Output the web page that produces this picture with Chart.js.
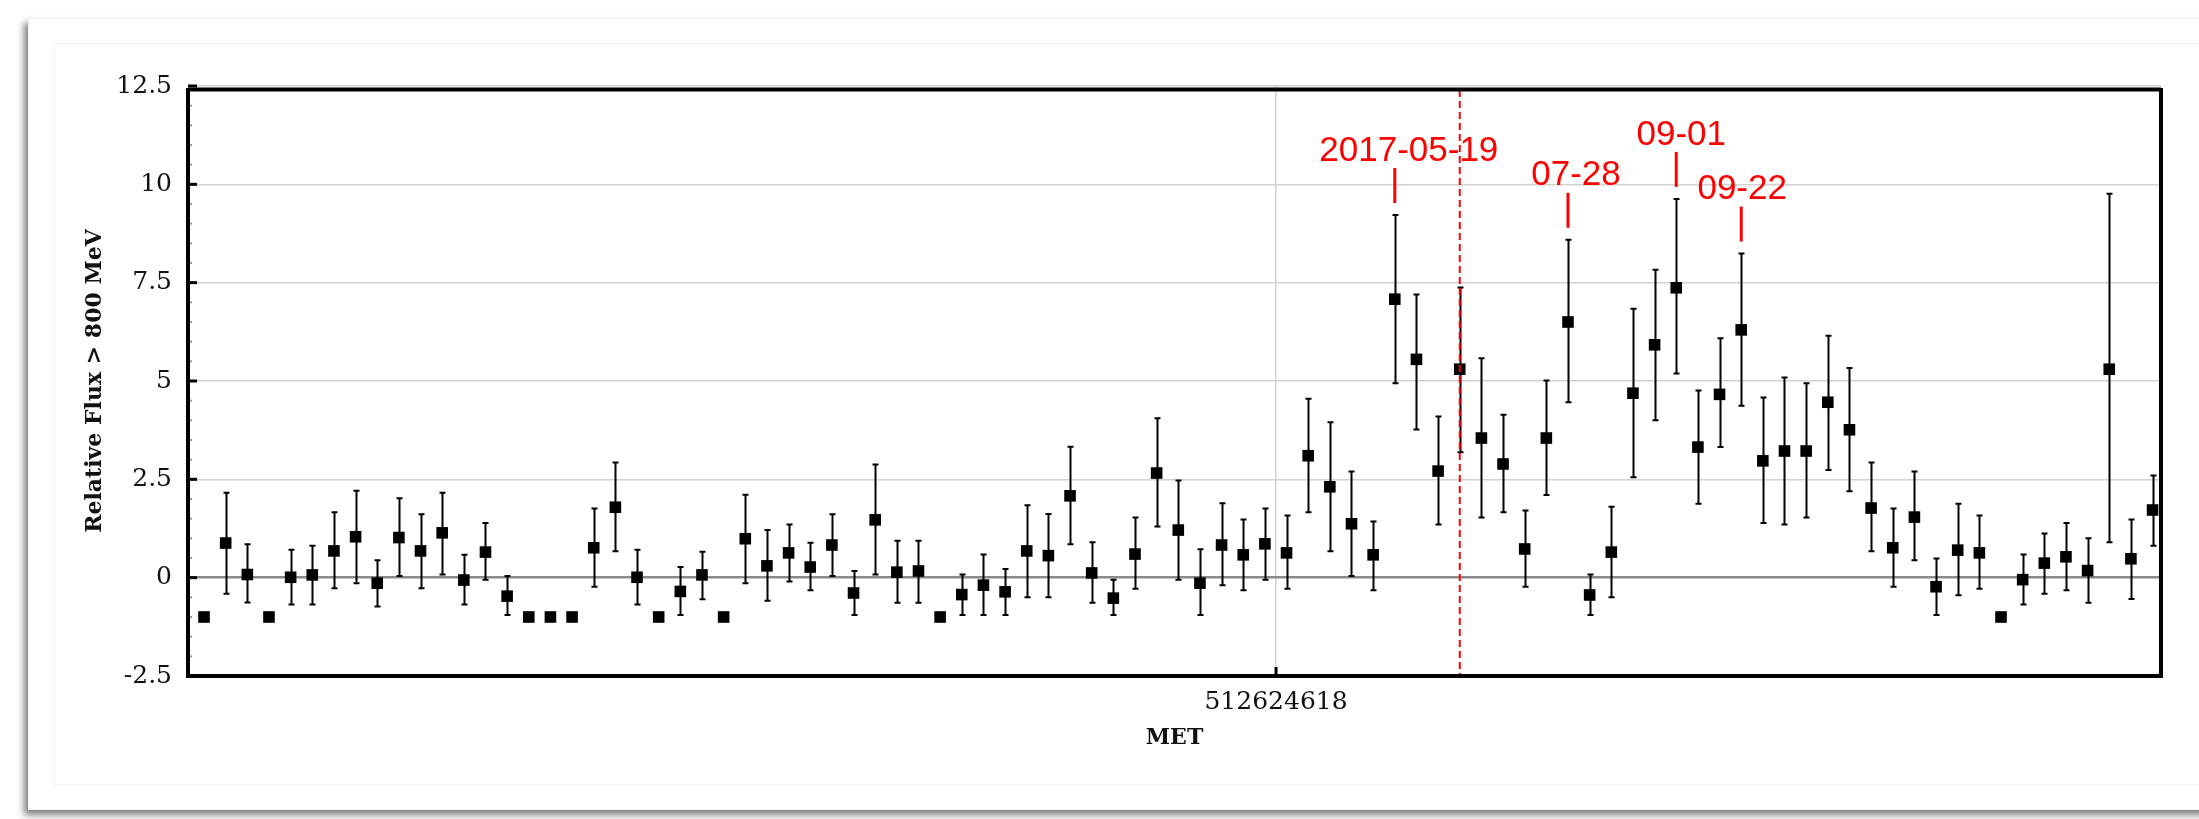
<!DOCTYPE html>
<html>
<head>
<meta charset="utf-8">
<title>Relative Flux &gt; 800 MeV</title>
<script src="https://cdn.jsdelivr.net/npm/chart.js@4"></script>
<style>
  html, body { margin: 0; padding: 0; background: #fff; overflow: hidden; }
  #card { position: absolute; left: 28px; top: 18px; width: 2200px; height: 792px; background: #fff;
          box-shadow: -4px 5px 7px rgba(0,0,0,0.5); border: 1px solid #f0f0f0; box-sizing: border-box; }
  #inner { position: absolute; left: 54px; top: 43px; width: 2170px; height: 742px;
           border: 1px solid #f2f2f2; box-sizing: border-box; }
  #lc { position: absolute; left: 0; top: 0; }
</style>
</head>
<body>
<div id="card"></div>
<div id="inner"></div>
<canvas id="lc" width="2199" height="819"></canvas>
<script>
// weekly bins, Fermi MET seconds
var binWidth = 604800;
var firstBinCenter = 482678018;
var metTick = 512624618;

// relative flux > 800 MeV per bin, -1 = upper limit only (no error bar)
var flux = [
  -1, 0.88, 0.08, -1, 0.01, 0.07, 0.68, 1.04, -0.14, 1.02,
  0.68, 1.14, -0.06, 0.65, -0.47, -1, -1, -1, 0.76, 1.79,
  0.01, -1, -0.35, 0.07, -1, 0.99, 0.30, 0.63, 0.27, 0.83,
  -0.39, 1.47, 0.14, 0.17, -1, -0.43, -0.19, -0.36, 0.68, 0.56,
  2.08, 0.12, -0.52, 0.60, 2.66, 1.21, -0.14, 0.83, 0.58, 0.86,
  0.63, 3.10, 2.31, 1.37, 0.58, 7.08, 5.55, 2.71, 5.30, 3.55,
  2.89, 0.73, 3.55, 6.50, -0.44, 0.65, 4.69, 5.92, 7.37, 3.32,
  4.66, 6.30, 2.97, 3.22, 3.22, 4.46, 3.76, 1.77, 0.76, 1.54,
  -0.23, 0.70, 0.63, -1, -0.05, 0.37, 0.53, 0.18, 5.30, 0.48,
  1.72
];
var fluxLow = [
  null, -0.41, -0.63, null, -0.68, -0.68, -0.27, -0.14, -0.73, 0.04,
  -0.27, 0.08, -0.68, -0.05, -0.95, null, null, null, -0.23, 0.67,
  -0.68, null, -0.95, -0.55, null, -0.14, -0.59, -0.10, -0.32, 0.04,
  -0.95, 0.08, -0.64, -0.64, null, -0.95, -0.95, -0.95, -0.50, -0.50,
  0.85, -0.64, -0.95, -0.28, 1.30, -0.05, -0.95, -0.19, -0.32, -0.05,
  -0.28, 1.66, 0.67, 0.04, -0.32, 4.94, 3.77, 1.35, 3.19, 1.53,
  1.66, -0.23, 2.10, 4.46, -0.95, -0.50, 2.55, 4.00, 5.19, 1.88,
  3.32, 4.37, 1.39, 1.35, 1.53, 2.74, 2.20, 0.67, -0.23, 0.44,
  -0.95, -0.45, -0.28, null, -0.68, -0.41, -0.32, -0.64, 0.90, -0.54,
  0.81
];
var fluxHigh = [
  null, 2.16, 0.85, null, 0.71, 0.81, 1.66, 2.21, 0.44, 2.02,
  1.61, 2.16, 0.58, 1.39, 0.04, null, null, null, 1.76, 2.93,
  0.71, null, 0.27, 0.66, null, 2.11, 1.21, 1.35, 0.89, 1.61,
  0.17, 2.88, 0.94, 0.94, null, 0.08, 0.59, 0.22, 1.84, 1.62,
  3.33, 0.90, -0.05, 1.53, 4.05, 2.47, 0.72, 1.89, 1.48, 1.76,
  1.58, 4.55, 3.95, 2.70, 1.43, 9.22, 7.20, 4.10, 7.38, 5.58,
  4.14, 1.71, 5.01, 8.59, 0.08, 1.80, 6.84, 7.83, 9.63, 4.76,
  6.09, 8.24, 4.58, 5.09, 4.94, 6.15, 5.33, 2.93, 1.76, 2.70,
  0.49, 1.88, 1.58, null, 0.59, 1.12, 1.39, 1.00, 9.76, 1.48,
  2.60
];

// dated flares and the dashed reference bin
var flareNotes = [
  { label: '2017-05-19', bin: 55, dx: 14 },
  { label: '07-28', bin: 63, dx: 8 },
  { label: '09-01', bin: 68, dx: 5 },
  { label: '09-22', bin: 71, dx: 1 }
];
var dashedBin = 58;

var met = flux.map(function(v, i) { return firstBinCenter + i * binWidth; });
var points = flux.map(function(v, i) { return { x: met[i], y: v }; });

var errorBars = {
  id: 'errorBars',
  beforeDatasetsDraw: function(chart) {
    var ctx = chart.ctx, xs = chart.scales.x, ys = chart.scales.y;
    ctx.save();
    ctx.strokeStyle = '#000';
    ctx.lineWidth = 2;
    for (var i = 0; i < flux.length; i++) {
      if (fluxLow[i] === null) continue;
      var px = Math.round(xs.getPixelForValue(met[i])) + 0.5;
      var lo = ys.getPixelForValue(fluxLow[i]);
      var hi = ys.getPixelForValue(fluxHigh[i]);
      ctx.beginPath();
      ctx.moveTo(px, lo); ctx.lineTo(px, hi);
      ctx.moveTo(px - 3, lo); ctx.lineTo(px + 3, lo);
      ctx.moveTo(px - 3, hi); ctx.lineTo(px + 3, hi);
      ctx.stroke();
    }
    ctx.restore();
  }
};

var frameAndNotes = {
  id: 'frameAndNotes',
  afterDatasetsDraw: function(chart) {
    var ctx = chart.ctx, a = chart.chartArea, xs = chart.scales.x, ys = chart.scales.y;
    ctx.save();

    // red dashed line
    var dx = xs.getPixelForValue(met[dashedBin]);
    ctx.strokeStyle = '#ff0000';
    ctx.lineWidth = 2;
    ctx.setLineDash([7, 4]);
    ctx.beginPath();
    ctx.moveTo(dx, a.top + 4); ctx.lineTo(dx, a.bottom);
    ctx.stroke();
    ctx.setLineDash([]);

    // minor ticks on the left axis
    ctx.fillStyle = '#9a9a9a';
    for (var v = -2.5; v <= 12.5; v += 0.5) {
      if (Math.abs(v / 2.5 - Math.round(v / 2.5)) < 1e-6) continue;
      ctx.fillRect(a.left + 1, ys.getPixelForValue(v) - 1, 3, 2);
    }
    // major ticks
    ctx.fillStyle = '#000';
    ys.ticks.forEach(function(t) {
      ctx.fillRect(a.left, ys.getPixelForValue(t.value) - 1.5, 9, 3);
    });
    xs.ticks.forEach(function(t) {
      ctx.fillRect(xs.getPixelForValue(t.value) - 1.5, a.bottom - 9, 3, 9);
    });

    // thick frame
    ctx.strokeStyle = '#000';
    ctx.lineWidth = 4;
    ctx.beginPath();
    ctx.moveTo(a.left, a.top + 3.5);
    ctx.lineTo(a.right, a.top + 3.5);
    ctx.moveTo(a.right, a.top + 2);
    ctx.lineTo(a.right, a.bottom);
    ctx.moveTo(a.left, a.top + 2);
    ctx.lineTo(a.left, a.bottom);
    ctx.moveTo(a.left - 2, a.bottom);
    ctx.lineTo(a.right + 2, a.bottom);
    ctx.stroke();

    // flare dates above their error bars
    ctx.strokeStyle = '#ff0000';
    ctx.fillStyle = '#ff0000';
    ctx.lineWidth = 3;
    ctx.font = '35px "Liberation Sans", Arial, sans-serif';
    ctx.textAlign = 'center';
    ctx.textBaseline = 'middle';
    flareNotes.forEach(function(n) {
      var px = xs.getPixelForValue(met[n.bin]);
      var top = ys.getPixelForValue(fluxHigh[n.bin]);
      var lineBottom = top - 12, lineTop = lineBottom - 35;
      ctx.beginPath();
      ctx.moveTo(px, lineTop); ctx.lineTo(px, lineBottom);
      ctx.stroke();
      ctx.fillText(n.label, px + n.dx, lineTop - 17);
    });
    ctx.restore();
  }
};

new Chart(document.getElementById('lc'), {
  type: 'scatter',
  data: {
    datasets: [{
      data: points,
      pointStyle: 'rect',
      pointRadius: 8.2,
      pointHoverRadius: 8.2,
      backgroundColor: '#000',
      borderWidth: 0,
      showLine: false
    }]
  },
  options: {
    responsive: false,
    animation: false,
    devicePixelRatio: 1,
    layout: { padding: { top: 86, right: 38, left: 0, bottom: 0 } },
    plugins: { legend: { display: false }, tooltip: { enabled: false } },
    scales: {
      x: {
        type: 'linear',
        min: firstBinCenter - 0.74 * binWidth,
        max: firstBinCenter + 90.39 * binWidth,
        afterBuildTicks: function(axis) { axis.ticks = [{ value: metTick }]; },
        afterFit: function(axis) { axis.height = 143; },
        grid: { color: '#d2d2d2', lineWidth: 1.5, drawTicks: false },
        border: { display: false },
        ticks: {
          padding: 11,
          color: '#111',
          font: { family: '"DejaVu Serif", serif', size: 25 },
          callback: function(value) { return String(value); }
        },
        title: {
          display: true,
          text: 'MET',
          color: '#111',
          font: { family: '"DejaVu Serif", serif', size: 22, weight: 'bold' },
          padding: { top: 0, bottom: 68 }
        }
      },
      y: {
        min: -2.5,
        max: 12.5,
        afterFit: function(axis) { axis.width = 188; },
        grid: {
          drawTicks: false,
          color: function(c) { return c.tick && c.tick.value === 0 ? '#8a8a8a' : '#d2d2d2'; },
          lineWidth: function(c) { return c.tick && c.tick.value === 0 ? 2.5 : 1.5; }
        },
        border: { display: false },
        ticks: {
          stepSize: 2.5,
          padding: 16,
          color: '#111',
          font: { family: '"DejaVu Serif", serif', size: 25 }
        },
        title: {
          display: true,
          text: 'Relative Flux > 800 MeV',
          color: '#111',
          font: { family: '"DejaVu Serif", serif', size: 22, weight: 'bold' },
          padding: { top: 82, bottom: 0 }
        }
      }
    }
  },
  plugins: [errorBars, frameAndNotes]
});
</script>
</body>
</html>
